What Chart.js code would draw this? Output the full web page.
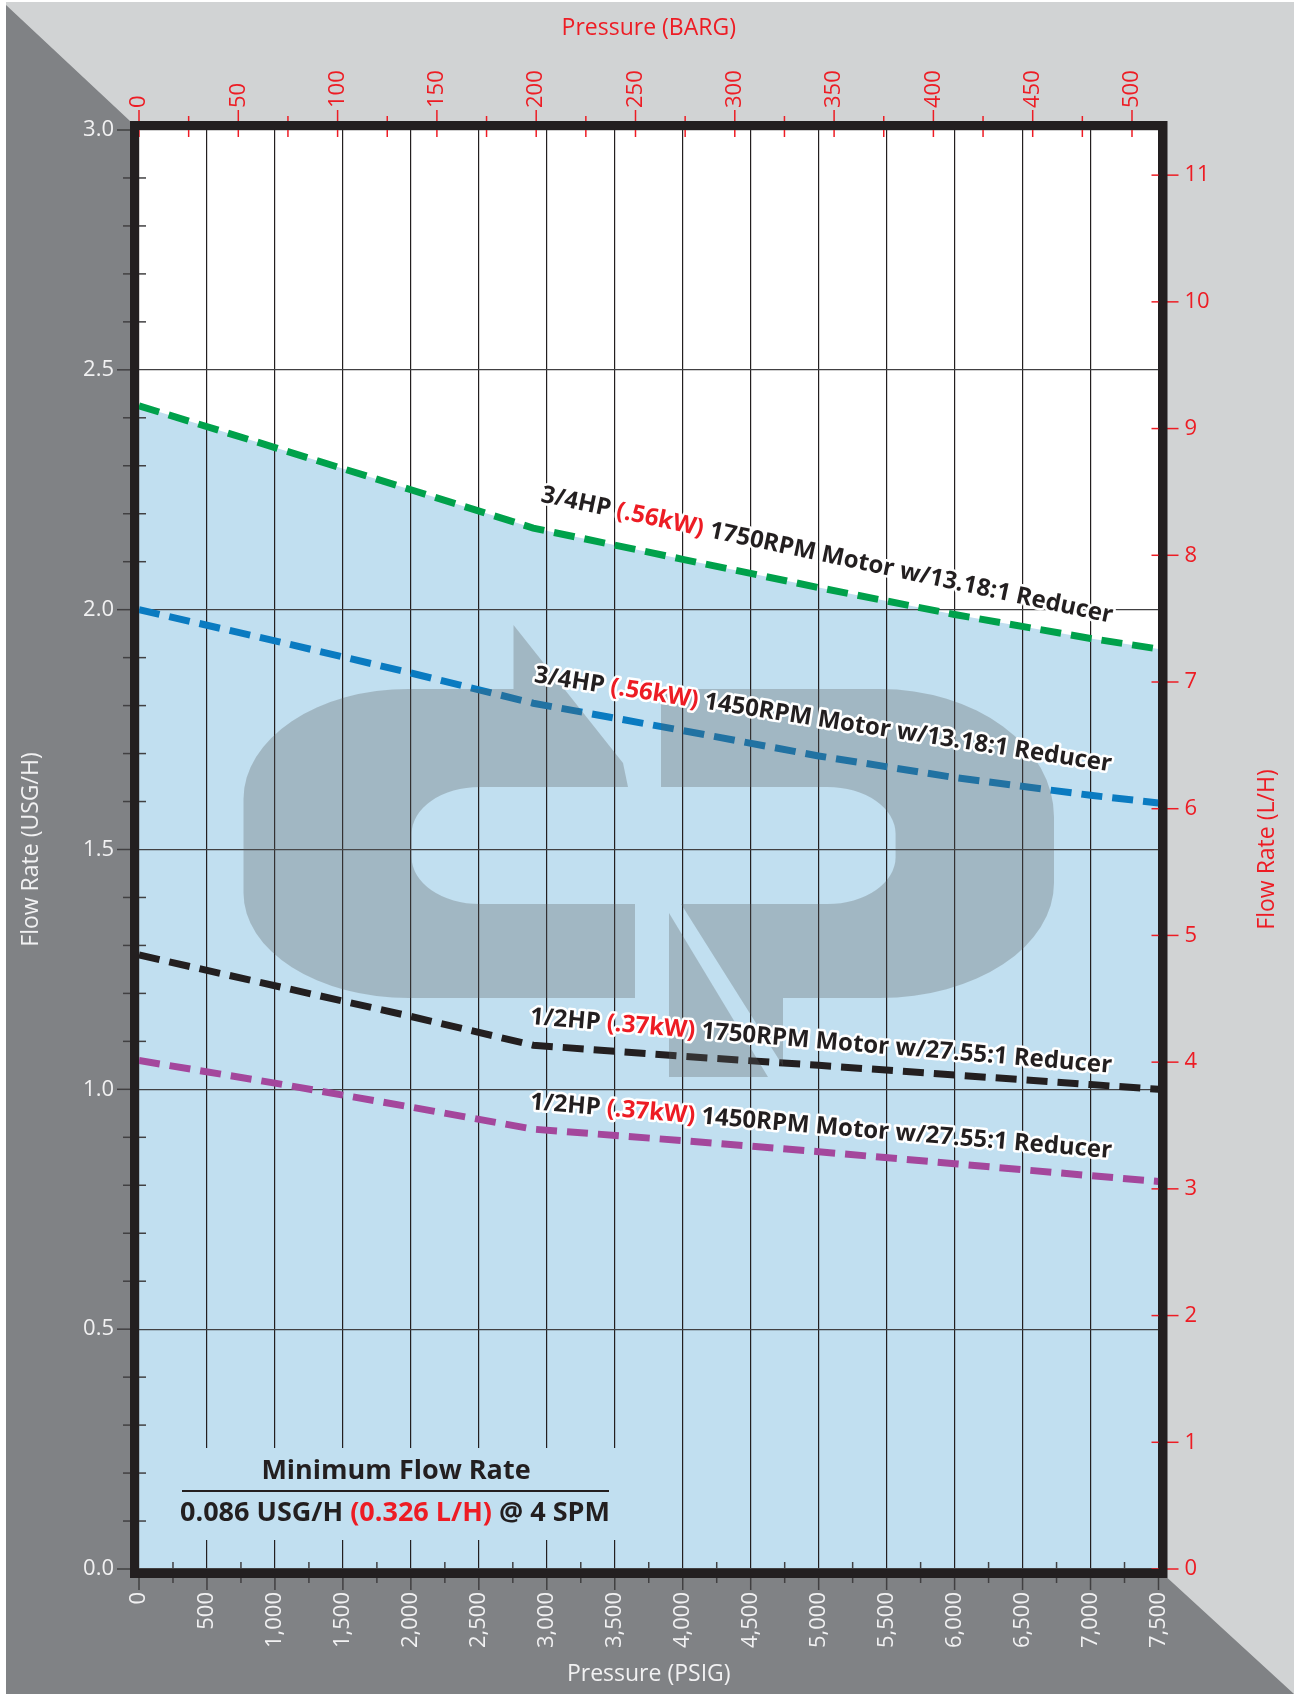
<!DOCTYPE html>
<html>
<head>
<meta charset="utf-8">
<title>Flow Rate vs Pressure</title>
<script src="https://cdn.jsdelivr.net/npm/chart.js@4.4.1/dist/chart.umd.min.js"></script>
<style>
  html, body { margin: 0; padding: 0; background: #fff; }
  #wrap { width: 1294px; height: 1694px; }
</style>
</head>
<body>
<div id="wrap"><canvas id="chart" width="1294" height="1694"></canvas></div>
<script>
// Puntos (presión en PSIG, caudal en USG/H)
const psi       = [0, 1000, 2000, 2900, 4000, 5000, 6000, 7000, 7500];
const hp34_1750 = [2.425, 2.338, 2.25, 2.17, 2.105, 2.046, 1.99, 1.94, 1.918];
const hp34_1450 = [2.0, 1.935, 1.868, 1.805, 1.748, 1.695, 1.65, 1.613, 1.597];
const hp12_1750 = [1.28, 1.216, 1.152, 1.092, 1.069, 1.05, 1.03, 1.01, 1.0];
const hp12_1450 = [1.06, 1.013, 0.963, 0.917, 0.893, 0.87, 0.845, 0.82, 0.808];

// Textos de cada curva: [antes, kW en rojo, después]
const curveText = [
  ['3/4HP ', '(.56kW)', ' 1750RPM Motor w/13.18:1 Reducer'],
  ['3/4HP ', '(.56kW)', ' 1450RPM Motor w/13.18:1 Reducer'],
  ['1/2HP ', '(.37kW)', ' 1750RPM Motor w/27.55:1 Reducer'],
  ['1/2HP ', '(.37kW)', ' 1450RPM Motor w/27.55:1 Reducer'],
];
const minFlowTitle = 'Minimum Flow Rate';
const minFlowLine  = ['0.086 USG/H ', '(0.326 L/H)', ' @ 4 SPM'];

// Rangos de ejes (la escala BARG del original usa ~14.6 psi/bar)
const PSI_MAX = 7500;
const USG_MAX = 3;
const PSI_PER_BAR = 14.61;
const L_PER_GAL = 3.78541;

const col = {
  green: '#00a14b', blue: '#0a7bc1', black: '#231f20', purple: '#a4479c',
  red: '#ed1c24', fill: '#c1dff0', light: '#d1d3d4', dark: '#808285', white: '#f1f1f2',
};

// posición de cada texto de curva: [psi, usg, ángulo]
const labelPos = [[5061, 2.113, 12.0], [5032, 1.770, 8.8], [5017, 1.0997, 4.8], [5017, 0.922, 4.8]];

const tickFont = { family: 'Open Sans', size: 22 };
const titleFont = { family: 'Open Sans', size: 23 };

function line(ctx, x1, y1, x2, y2) {
  ctx.beginPath(); ctx.moveTo(x1, y1); ctx.lineTo(x2, y2); ctx.stroke();
}

function richText(ctx, parts, colors, x, y, stroke) {
  const widths = parts.map(p => ctx.measureText(p).width);
  const total = widths.reduce((s, w) => s + w, 0);
  let cx = x - total / 2;
  if (stroke) {
    ctx.lineJoin = 'round'; ctx.lineWidth = 5; ctx.strokeStyle = '#fff';
    parts.forEach((p, i) => { ctx.strokeText(p, cx, y); cx += widths[i]; });
    cx = x - total / 2;
  }
  parts.forEach((p, i) => { ctx.fillStyle = colors[i]; ctx.fillText(p, cx, y); cx += widths[i]; });
}

// Logo CP de fondo
function drawLogo(ctx, a) {
  ctx.save();
  ctx.translate(a.left - 139, a.top - 130);
  ctx.fillStyle = 'rgba(90,92,93,0.3)';
  const H = Math.PI / 2;
  // C
  ctx.beginPath();
  ctx.moveTo(513.5, 625);
  ctx.lineTo(623, 763);
  ctx.lineTo(628, 787);
  ctx.lineTo(479.6, 787);
  ctx.ellipse(479.6, 834, 68, 47, 0, -H, -Math.PI, true);
  ctx.lineTo(411.6, 857);
  ctx.ellipse(479.6, 857, 68, 47, 0, Math.PI, H, true);
  ctx.lineTo(635, 904);
  ctx.lineTo(635, 998);
  ctx.lineTo(408.5, 998);
  ctx.ellipse(408.5, 893, 165, 105, 0, H, Math.PI, false);
  ctx.lineTo(243.5, 799);
  ctx.ellipse(408.5, 799, 165, 110, 0, Math.PI, 3 * H, false);
  ctx.lineTo(513.5, 689);
  ctx.closePath();
  ctx.fill();
  // P
  ctx.beginPath();
  ctx.moveTo(681, 904);
  ctx.lineTo(827.6, 904);
  ctx.ellipse(827.6, 857, 68, 47, 0, H, 0, true);
  ctx.lineTo(895.6, 834);
  ctx.ellipse(827.6, 834, 68, 47, 0, 0, -H, true);
  ctx.lineTo(661, 787);
  ctx.lineTo(661, 689);
  ctx.lineTo(880, 689);
  ctx.ellipse(880, 817, 174, 128, 0, -H, 0, false);
  ctx.lineTo(1054, 883);
  ctx.ellipse(880, 883, 174, 115, 0, 0, H, false);
  ctx.lineTo(783, 998);
  ctx.lineTo(783, 1066);
  ctx.closePath();
  ctx.fill();
  ctx.beginPath();
  ctx.moveTo(669, 913);
  ctx.lineTo(768, 1077);
  ctx.lineTo(669, 1077);
  ctx.closePath();
  ctx.fill();
  ctx.restore();
}

const decor = {
  id: 'decor',
  beforeDraw(chart) {
    const { ctx, chartArea: a, width, height } = chart;
    const fo = 9;
    ctx.save();
    ctx.fillStyle = '#fff';
    ctx.fillRect(0, 0, width, height);
    ctx.fillStyle = col.light;
    ctx.fillRect(6, 2, width - 6, height - 2);
    ctx.fillStyle = col.dark;
    ctx.beginPath();
    ctx.moveTo(6, 5);
    ctx.lineTo(a.left - fo, a.top - fo);
    ctx.lineTo(a.left - fo, a.bottom + fo);
    ctx.lineTo(a.right + fo, a.bottom + fo);
    ctx.lineTo(width, height);
    ctx.lineTo(6, height);
    ctx.closePath();
    ctx.fill();
    ctx.fillStyle = '#fff';
    ctx.fillRect(a.left, a.top, a.right - a.left, a.bottom - a.top);
    // relleno bajo la curva superior
    const pts = chart.getDatasetMeta(0).data;
    ctx.beginPath();
    ctx.moveTo(pts[0].x, a.bottom);
    pts.forEach(p => ctx.lineTo(p.x, p.y));
    ctx.lineTo(pts[pts.length - 1].x, a.bottom);
    ctx.closePath();
    ctx.fillStyle = col.fill;
    ctx.fill();
    ctx.restore();
  },
  afterDatasetsDraw(chart) {
    const { ctx, chartArea: a, scales } = chart;
    const xs = scales.x, ys = scales.y, xt = scales.x2, yr = scales.y2;
    drawLogo(ctx, a);

    ctx.save();
    // caja de caudal mínimo
    ctx.fillStyle = col.fill;
    ctx.fillRect(a.left + 12, a.bottom - 121, 490, 92);

    // marcas de ejes
    ctx.lineWidth = 1.5;
    ctx.strokeStyle = '#414042';
    for (let i = 0; i <= USG_MAX * 10; i++) {
      const y = ys.getPixelForValue(i / 10);
      if (i % 5 === 0) line(ctx, a.left - 22, y, a.left, y);
      else line(ctx, a.left - 16, y, a.left + 7, y);
    }
    for (let v = 0; v <= PSI_MAX; v += 250) {
      const x = xs.getPixelForValue(v);
      if (v % 500 === 0) line(ctx, x, a.bottom, x, a.bottom + 21);
      else line(ctx, x, a.bottom - 7, x, a.bottom + 14);
    }
    ctx.strokeStyle = col.red;
    for (let v = 0; v <= xt.max; v += 25) {
      const x = xt.getPixelForValue(v);
      if (v % 50 === 0) line(ctx, x, a.top - 20, x, a.top + 7);
      else line(ctx, x, a.top - 14, x, a.top + 7);
    }
    for (let v = 0; v <= 11; v++) {
      const y = yr.getPixelForValue(v);
      line(ctx, a.right - 7, y, a.right + 20, y);
    }

    // marco
    ctx.strokeStyle = col.black;
    ctx.lineWidth = 9;
    ctx.strokeRect(a.left - 4.5, a.top - 4.5, a.right - a.left + 9, a.bottom - a.top + 9);

    // textos de curvas
    ctx.font = 'bold 24px "Open Sans"';
    ctx.textBaseline = 'middle';
    curveText.forEach((parts, i) => {
      const [px, py, deg] = labelPos[i];
      ctx.save();
      ctx.translate(xs.getPixelForValue(px), ys.getPixelForValue(py));
      ctx.rotate(deg * Math.PI / 180);
      richText(ctx, parts, [col.black, col.red, col.black], 0, 0, true);
      ctx.restore();
    });

    // caudal mínimo
    ctx.font = 'bold 27px "Open Sans"';
    ctx.fillStyle = col.black;
    ctx.textAlign = 'left';
    richText(ctx, [minFlowTitle], [col.black], a.left + 257, a.bottom - 98, false);
    ctx.strokeStyle = col.black;
    ctx.lineWidth = 2;
    line(ctx, a.left + 43, a.bottom - 78, a.left + 470, a.bottom - 78);
    richText(ctx, minFlowLine, [col.black, col.red, col.black], a.left + 256, a.bottom - 56, false);

    // título eje derecho
    ctx.font = '23px "Open Sans"';
    ctx.fillStyle = col.red;
    ctx.textAlign = 'center';
    ctx.translate(yr.right - 27, (a.top + a.bottom) / 2);
    ctx.rotate(-Math.PI / 2);
    ctx.fillText('Flow Rate (L/H)', 0, 0);
    ctx.restore();
  },
};

function ds(label, values, color) {
  return {
    label,
    data: psi.map((p, i) => ({ x: p, y: values[i] })),
    borderColor: color,
    borderWidth: 7,
    borderDash: [21, 10],
    borderCapStyle: 'butt',
    pointRadius: 0,
    tension: 0,
    fill: false,
  };
}

new Chart(document.getElementById('chart'), {
  type: 'line',
  data: {
    datasets: [
      ds(curveText[0].join(''), hp34_1750, col.green),
      ds(curveText[1].join(''), hp34_1450, col.blue),
      ds(curveText[2].join(''), hp12_1750, col.black),
      ds(curveText[3].join(''), hp12_1450, col.purple),
    ],
  },
  options: {
    responsive: false,
    animation: false,
    devicePixelRatio: 1,
    layout: { padding: 0 },
    plugins: { legend: { display: false }, tooltip: { enabled: false } },
    scales: {
      x: {
        type: 'linear', position: 'bottom', min: 0, max: PSI_MAX,
        afterFit: s => { s.height = 125; },
        grid: { color: col.black, lineWidth: 1.2, drawTicks: false },
        border: { display: false },
        ticks: {
          stepSize: 500, color: col.white, font: tickFont, padding: 23,
          minRotation: 90, maxRotation: 90, autoSkip: false,
          callback: v => v.toLocaleString('en-US'),
        },
        title: { display: true, text: 'Pressure (PSIG)', color: col.white, font: titleFont, padding: { top: 0, bottom: 6 } },
      },
      x2: {
        type: 'linear', position: 'top', min: 0, max: PSI_MAX / PSI_PER_BAR,
        afterFit: s => { s.height = 130; },
        grid: { display: false, drawTicks: false },
        border: { display: false },
        ticks: {
          stepSize: 50, includeBounds: false, color: col.red, font: tickFont, padding: 22,
          minRotation: 90, maxRotation: 90, autoSkip: false, labelOffset: 26.4,
        },
        title: { display: true, text: 'Pressure (BARG)', color: col.red, font: titleFont, padding: { top: 15, bottom: 0 } },
      },
      y: {
        type: 'linear', position: 'left', min: 0, max: USG_MAX,
        afterFit: s => { s.width = 139; },
        grid: { color: '#414042', lineWidth: 1.2, drawTicks: false },
        border: { display: false },
        ticks: { stepSize: 0.5, color: col.white, font: tickFont, padding: 25, callback: v => v.toFixed(1) },
        title: { display: true, text: 'Flow Rate (USG/H)', color: col.white, font: titleFont, padding: { top: 18, bottom: 0 } },
      },
      y2: {
        type: 'linear', position: 'right', min: 0, max: USG_MAX * L_PER_GAL,
        afterFit: s => { s.width = 135.5; },
        grid: { display: false, drawTicks: false },
        border: { display: false },
        ticks: { stepSize: 1, includeBounds: false, color: col.red, font: tickFont, padding: 26 },
      },
    },
  },
  plugins: [decor],
});
</script>
</body>
</html>
